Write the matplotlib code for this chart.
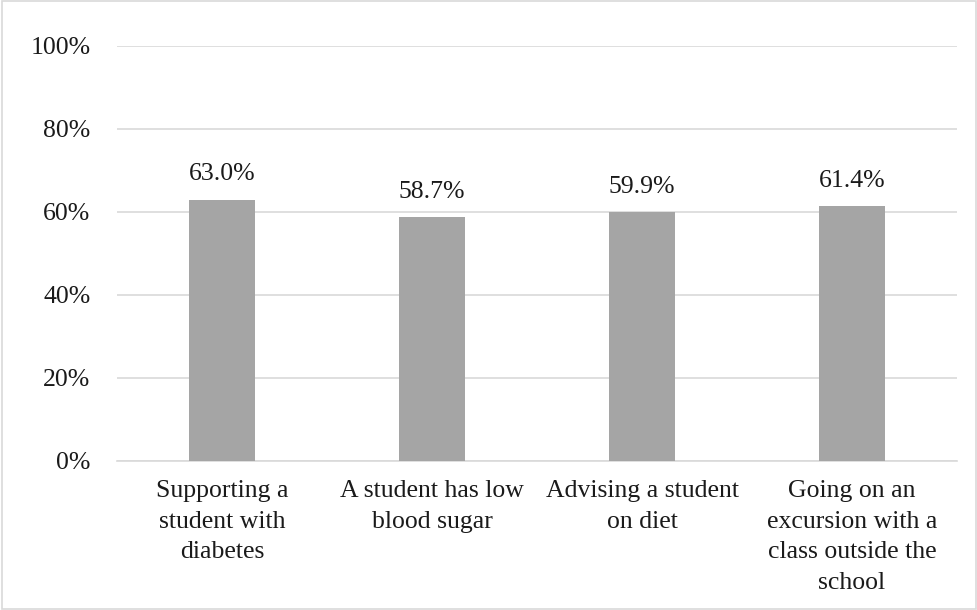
import matplotlib
matplotlib.use("Agg")
import matplotlib.pyplot as plt
from matplotlib.patches import Rectangle

categories = ["Supporting a\nstudent with\ndiabetes", "A student has low\nblood sugar",
              "Advising a student\non diet", "Going on an\nexcursion with a\nclass outside the\nschool"]
values = [63.0, 58.7, 59.9, 61.4]
yticks = [0, 20, 40, 60, 80, 100]

plt.rcParams['font.family'] = ['Liberation Serif', 'DejaVu Serif']
FS = 18.5
fig = plt.figure(figsize=(9.78, 6.10), dpi=100)
ax = fig.add_axes([0.1196, 0.2443, 0.859, 0.6803])
x = range(len(categories))
ax.bar(x, values, width=0.315, color='#a5a5a5', zorder=3)
for xi, v in zip(x, values):
    ax.text(xi, v + 4.6, f"{v:.1f}%", ha='center', va='baseline', fontsize=FS, color='#1a1a1a')
ax.set_xlim(-0.5, len(categories) - 0.5)
ax.set_ylim(0, 100)
ax.set_yticks(yticks)
ax.set_yticklabels([f"{t}%" for t in yticks], fontsize=FS, color='#1a1a1a')
ax.set_xticks(list(x))
ax.set_xticklabels(categories, fontsize=FS, color='#1a1a1a', va='top', linespacing=1.5)
ax.tick_params(axis='x', length=0, pad=14)
ax.tick_params(axis='y', length=0, pad=19)
ax.grid(axis='y', color='#d9d9d9', linewidth=1.2, zorder=0)
for s in ['top', 'right', 'left']:
    ax.spines[s].set_visible(False)
ax.spines['bottom'].set_color('#d9d9d9')
ax.spines['bottom'].set_linewidth(1.2)
fig.patches.append(Rectangle((0.002, 0.002), 0.996, 0.996, transform=fig.transFigure,
                             fill=False, edgecolor='#d9d9d9', linewidth=1.2))
fig.savefig("out.png", dpi=100)
